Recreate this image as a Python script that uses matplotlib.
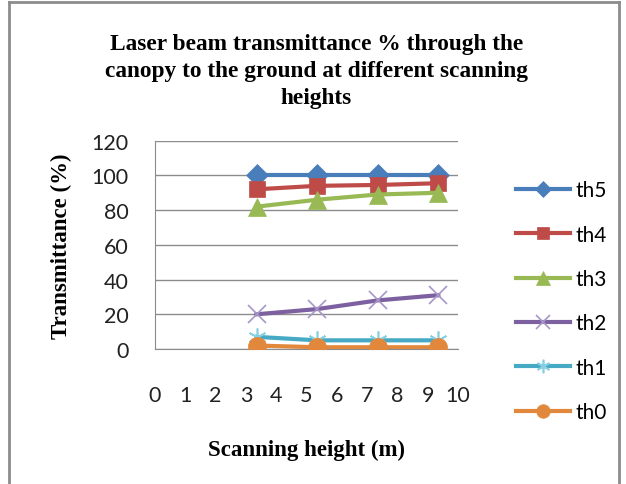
from matplotlib import pyplot as plt
from matplotlib.lines import Line2D

heights = [3.35, 5.35, 7.35, 9.35]
th5 = [100, 100, 100, 100]
th4 = [92, 94, 94.5, 95.5]
th3 = [82, 86, 89, 90]
th2 = [20, 23, 28, 31]
th1 = [7, 5, 5, 5]
th0 = [2, 1, 1, 1]
x_ticks = list(range(0, 11))
y_ticks = list(range(0, 121, 20))

series = [
    ("th5", th5, "#4A7EBB", "D", 11, "#4A7EBB"),
    ("th4", th4, "#BE4B48", "s", 12, "#BE4B48"),
    ("th3", th3, "#98B954", "^", 13, "#98B954"),
    ("th2", th2, "#7D60A0", "x", 13, "#A796C8"),
    ("th1", th1, "#46AAC5", (6, 2, 0), 13, "#86D0E2"),
    ("th0", th0, "#E2883C", "o", 13, "#E2883C"),
]

fig = plt.figure(figsize=(6.26, 4.85), dpi=100)
ax = fig.add_axes([155 / 626, 1 - 350 / 485, (458 - 155) / 626, (350 - 141.7) / 485])

for name, vals, col, mk, ms, mcol in series:
    thin = mk in ("x",) or isinstance(mk, tuple)
    ax.plot(heights, vals, color=col, lw=3, marker=mk, markersize=ms,
            markerfacecolor=mcol, markeredgecolor=mcol,
            markeredgewidth=1.2 if thin else 0.5, label=name, zorder=3)

ax.set_xlim(0, 10)
ax.set_ylim(0, 120)
ax.set_xticks(x_ticks)
ax.set_yticks(y_ticks)
ax.grid(axis="y", color="#8C8C8C", lw=1)
ax.set_axisbelow(True)
for s in ("top", "right"):
    ax.spines[s].set_visible(False)
for s in ("left", "bottom"):
    ax.spines[s].set_color("#8C8C8C")
ax.tick_params(axis="x", length=0, pad=26, labelsize=15.5, labelcolor="#222222")
ax.tick_params(axis="y", length=0, pad=19, labelsize=15.5, labelcolor="#222222")
for lab in ax.get_xticklabels() + ax.get_yticklabels():
    lab.set_family("Lato")

serif = "Liberation Serif"
ax.set_xlabel("Scanning height (m)", family=serif, fontweight="bold", fontsize=16.5, labelpad=24)
ax.set_ylabel("Transmittance (%)", family=serif, fontweight="bold", fontsize=16.5, labelpad=14)
fig.text(0.505, 0.93, "Laser beam transmittance % through the\ncanopy to the ground at different scanning\nheights",
         ha="center", va="top", family=serif, fontweight="bold", fontsize=16.8, linespacing=1.38)

leg = ax.legend(loc="upper left", bbox_to_anchor=(1.13, 0.9), frameon=False,
                handlelength=2.6, labelspacing=1.17, handletextpad=0.25,
                prop={"family": "Lato", "size": 15}, markerscale=0.75)

# outer chart border
for xs, ys in [((9 / 626, 9 / 626), (0, 1 - 3 / 485)),
               ((9 / 626, 619 / 626), (1 - 3 / 485, 1 - 3 / 485)),
               ((619 / 626, 619 / 626), (0, 1 - 3 / 485))]:
    fig.add_artist(Line2D(xs, ys, color="#8C8C8C", lw=2, transform=fig.transFigure))

fig.savefig("out.png", dpi=100)
